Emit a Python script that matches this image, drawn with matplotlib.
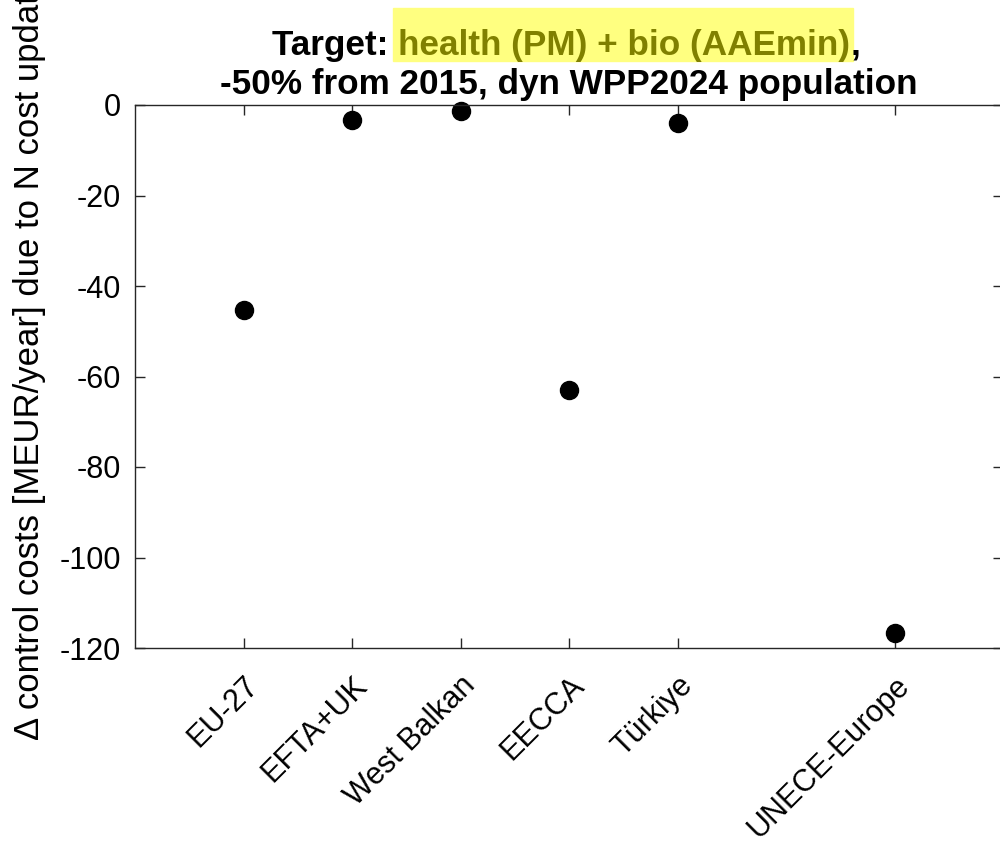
import numpy as np
import matplotlib.pyplot as plt
import matplotlib.transforms as mtransforms
from matplotlib.patches import Rectangle

# regions and their cost change
regions = ['EU-27', 'EFTA+UK', 'West Balkan', 'EECCA', 'Türkiye', 'UNECE-Europe']
xpos = [1, 2, 3, 4, 5, 7]
dcost = [-45.3, -3.3, -1.3, -63.0, -4.0, -116.7]
yticks = [0, -20, -40, -60, -80, -100, -120]

plt.rcParams['font.family'] = ['Liberation Sans', 'DejaVu Sans']
plt.rcParams['axes.unicode_minus'] = False

W, H = 1000, 842
fig = plt.figure(figsize=(W / 100, H / 100), dpi=100)
ax = fig.add_axes([135 / W, 1 - 648 / H, 868 / W, (648 - 105) / H])

ax.plot(xpos, dcost, 'o', color='black', markersize=13, clip_on=False)

ax.set_xlim(0, 8)
ax.set_ylim(-120, 0)
ax.set_yticks(yticks)
ax.set_xticks(xpos)
ax.set_xticklabels(regions, rotation=45, ha='right', va='top',
                   rotation_mode='anchor', fontsize=22)
# shift x labels a bit to the right like MATLAB does
shift = mtransforms.ScaledTranslation(13 / 100, 0, fig.dpi_scale_trans)
for lab in ax.get_xticklabels():
    lab.set_transform(lab.get_transform() + shift)
ax.tick_params(axis='y', labelsize=22, pad=10)
ax.tick_params(axis='x', pad=16)
ax.tick_params(direction='in', length=7, width=1, color='#262626',
               top=True, right=True, labelcolor='black')
for s in ax.spines.values():
    s.set_color('#262626')
    s.set_linewidth(1)

# y label (cut off at the top like in the original)
fig.text(30 / W, 1 - 740 / H,
         '\u0394 control costs [MEUR/year] due to N cost update',
         rotation=90, ha='center', va='bottom', fontsize=25)

# title with highlighted part
tkw = dict(fontsize=25.3, fontweight='bold')
y1 = 1 - 55 / H
t1 = fig.text(0, y1, 'Target: ', ha='left', va='baseline', **tkw)
t2 = fig.text(0, y1, 'health (PM) + bio (AAEmin)', ha='left', va='baseline',
              color='#808000', zorder=5, **tkw)
t3 = fig.text(0, y1, ',', ha='left', va='baseline', **tkw)
fig.text(569 / W, 1 - 94 / H, '-50% from 2015, dyn WPP2024 population',
         ha='center', va='baseline', **tkw)

fig.canvas.draw()
r = fig.canvas.get_renderer()
w1 = t1.get_window_extent(r).width
w2 = t2.get_window_extent(r).width
w3 = t3.get_window_extent(r).width
x0 = 566 - (w1 + w2 + w3) / 2
t1.set_x(x0 / W)
t2.set_x((x0 + w1) / W)
t3.set_x((x0 + w1 + w2) / W)
fig.add_artist(Rectangle(((x0 + w1 - 5) / W, 1 - 61 / H), (w2 + 8) / W, 53 / H,
                         transform=fig.transFigure, color='#ffff80', zorder=1))

fig.savefig('out.png', dpi=100)
